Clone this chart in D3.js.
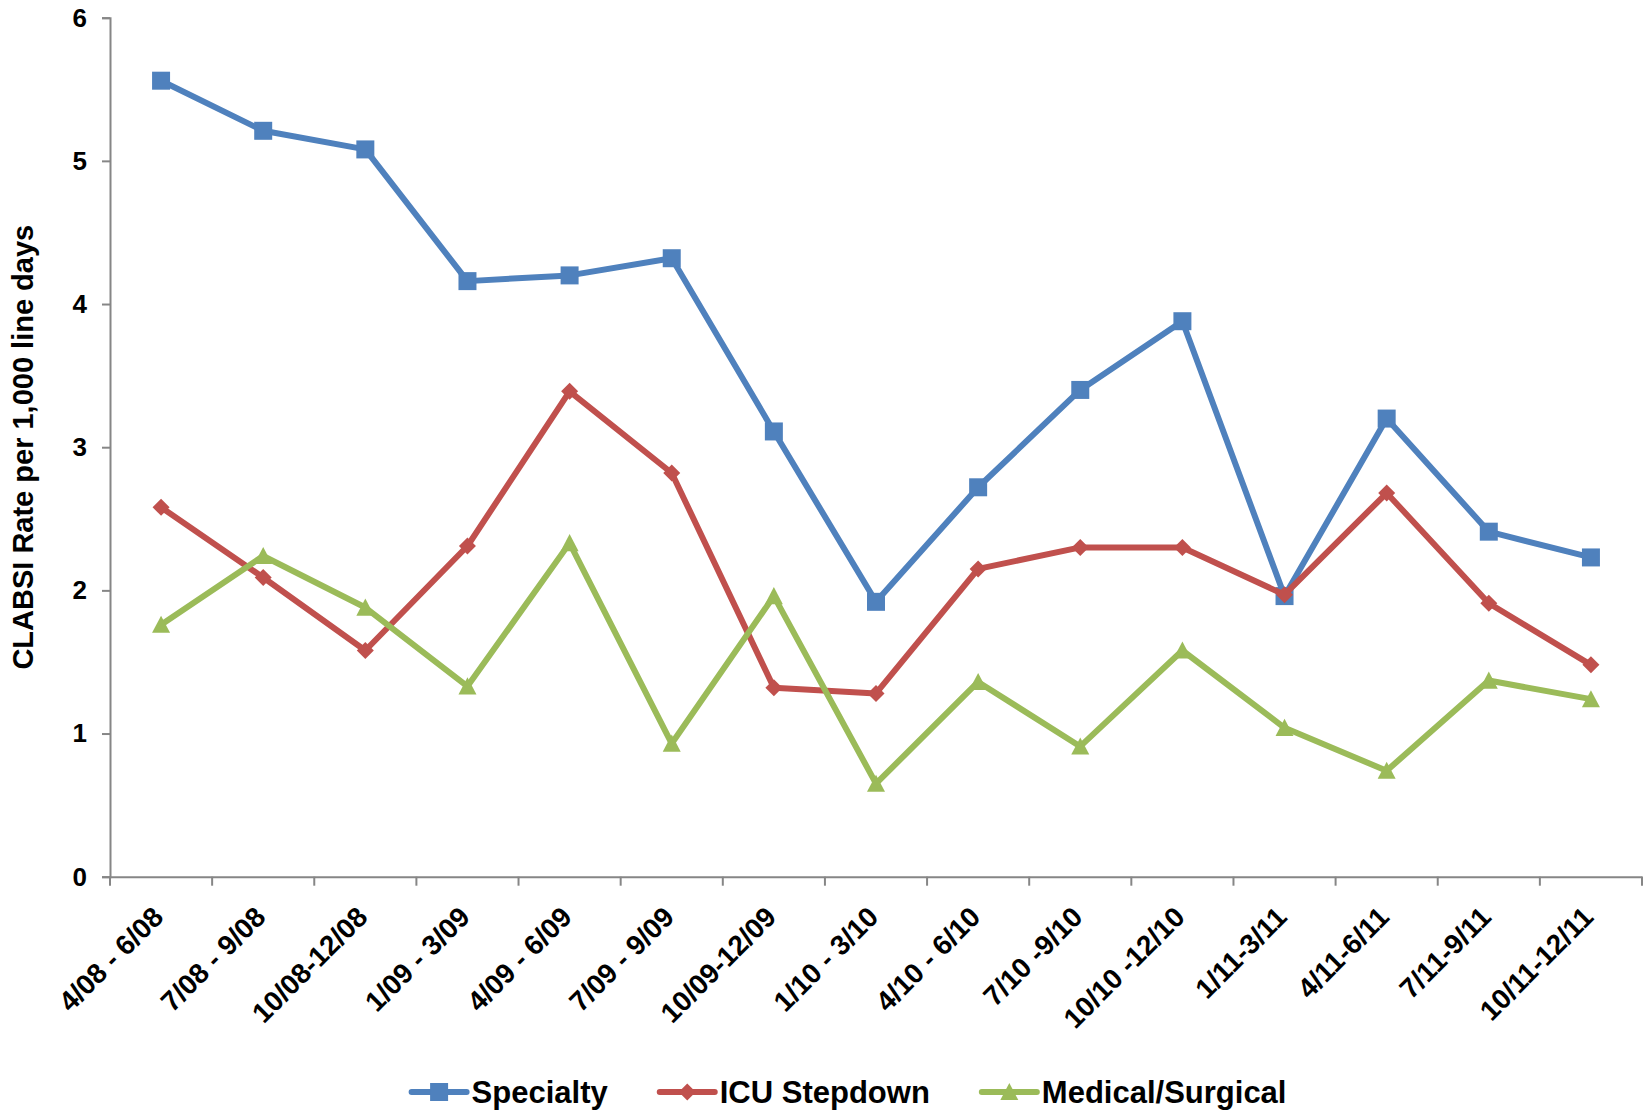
<!DOCTYPE html>
<html>
<head>
<meta charset="utf-8">
<script src="https://cdn.jsdelivr.net/npm/d3@7"></script>
<style>
  body { margin: 0; background: #fff; }
  text { font-family: "Liberation Sans", Arial, sans-serif; font-weight: bold; fill: #000; }
</style>
</head>
<body>
<svg id="chart" width="1646" height="1110"></svg>
<script>
// Quarterly reporting periods
const periods = [
  "4/08 - 6/08", "7/08 - 9/08", "10/08-12/08", "1/09 - 3/09", "4/09 - 6/09",
  "7/09 - 9/09", "10/09-12/09", "1/10 - 3/10", "4/10 - 6/10", "7/10 -9/10",
  "10/10 -12/10", "1/11-3/11", "4/11-6/11", "7/11-9/11", "10/11-12/11"
];

// CLABSI rate per 1,000 line days, by unit type
const specialty       = [5.56, 5.21, 5.08, 4.16, 4.20, 4.32, 3.11, 1.92, 2.72, 3.40, 3.88, 1.96, 3.20, 2.41, 2.23];
const icuStepdown     = [2.58, 2.09, 1.58, 2.31, 3.39, 2.82, 1.32, 1.28, 2.15, 2.30, 2.30, 1.97, 2.68, 1.91, 1.48];
const medicalSurgical = [1.76, 2.24, 1.88, 1.33, 2.33, 0.93, 1.96, 0.65, 1.36, 0.91, 1.58, 1.04, 0.74, 1.37, 1.24];

const yTicks = [0, 1, 2, 3, 4, 5, 6];
const seriesNames = ["Specialty", "ICU Stepdown", "Medical/Surgical"];
const yTitle = "CLABSI Rate per 1,000 line days";

// Marker shapes (size = side length in px)
const squareSym = { draw(ctx, s) { const h = s / 2; ctx.rect(-h, -h, s, s); } };
const diamondSym = { draw(ctx, s) { const h = s / 2; ctx.moveTo(0, -h); ctx.lineTo(h, 0); ctx.lineTo(0, h); ctx.lineTo(-h, 0); ctx.closePath(); } };
const triangleSym = { draw(ctx, s) { const h = s / 2; ctx.moveTo(0, -h); ctx.lineTo(h, h * 0.9); ctx.lineTo(-h, h * 0.9); ctx.closePath(); } };

const series = [
  { name: seriesNames[0], values: specialty,       color: "#4F81BD", sym: squareSym,   size: 18 },
  { name: seriesNames[1], values: icuStepdown,     color: "#C0504D", sym: diamondSym,  size: 17 },
  { name: seriesNames[2], values: medicalSurgical, color: "#9BBB59", sym: triangleSym, size: 18 }
];

const svg = d3.select("#chart");
const plotLeft = 110, plotRight = 1642, plotTop = 17.7, plotBottom = 876.7;
const axisColor = "#868686";

const x = d3.scaleBand().domain(periods).range([plotLeft, plotRight]);
const y = d3.scaleLinear().domain([0, 6]).range([plotBottom, plotTop]);
const cx = d => x(d) + x.bandwidth() / 2;

// Y axis
const yAxis = svg.append("g").attr("transform", `translate(${plotLeft},0)`)
  .call(d3.axisLeft(y).tickValues(yTicks).tickSize(8).tickPadding(15).tickFormat(d3.format("d")));
yAxis.select(".domain").attr("stroke", axisColor).attr("stroke-width", 2);
yAxis.selectAll(".tick line").attr("stroke", axisColor).attr("stroke-width", 2);
yAxis.selectAll(".tick text").attr("font-size", 26).attr("font-family", null).attr("fill", "#000");

// X axis (ticks at category boundaries)
const xAxis = svg.append("g").attr("transform", `translate(0,${plotBottom})`)
  .call(d3.axisBottom(x).tickSize(0).tickFormat(""));
xAxis.select(".domain").attr("stroke", axisColor).attr("stroke-width", 2);
const bounds = periods.map(p => x(p)).concat([x.range()[1]]);
svg.append("g").selectAll("line").data(bounds).join("line")
  .attr("x1", d => d).attr("x2", d => d)
  .attr("y1", plotBottom).attr("y2", plotBottom + 9)
  .attr("stroke", axisColor).attr("stroke-width", 2);

// Rotated category labels
svg.append("g").selectAll("text").data(periods).join("text")
  .attr("transform", d => `translate(${cx(d) + 4},${plotBottom + 42}) rotate(-45)`)
  .attr("text-anchor", "end")
  .attr("font-size", 28)
  .text(d => d);

// Y axis title
svg.append("text")
  .attr("transform", `translate(33,${(plotTop + plotBottom) / 2}) rotate(-90)`)
  .attr("text-anchor", "middle")
  .attr("font-size", 29)
  .text(yTitle);

// Series lines and markers
const line = d3.line().x((v, i) => cx(periods[i])).y(v => y(v));
series.forEach(s => {
  svg.append("path")
    .attr("d", line(s.values))
    .attr("fill", "none")
    .attr("stroke", s.color)
    .attr("stroke-width", 6)
    .attr("stroke-linejoin", "round");
  svg.append("g").selectAll("path").data(s.values).join("path")
    .attr("transform", (v, i) => `translate(${cx(periods[i])},${y(v)})`)
    .attr("d", d3.symbol().type(s.sym).size(s.size))
    .attr("fill", s.color);
});

// Legend
const legend = svg.append("g").attr("transform", "translate(411.6,1092)");
let lx = 0;
series.forEach(s => {
  const g = legend.append("g").attr("transform", `translate(${lx},0)`);
  g.append("line").attr("x1", 0).attr("x2", 55).attr("y1", 0).attr("y2", 0)
    .attr("stroke", s.color).attr("stroke-width", 6).attr("stroke-linecap", "round");
  g.append("path").attr("transform", "translate(27.5,0)")
    .attr("d", d3.symbol().type(s.sym).size(s.size)).attr("fill", s.color);
  const t = g.append("text").attr("x", 60).attr("y", 0).attr("dy", "0.36em")
    .attr("font-size", 31).text(s.name);
  lx += 60 + t.node().getComputedTextLength() + 52;
});
</script>
</body>
</html>
